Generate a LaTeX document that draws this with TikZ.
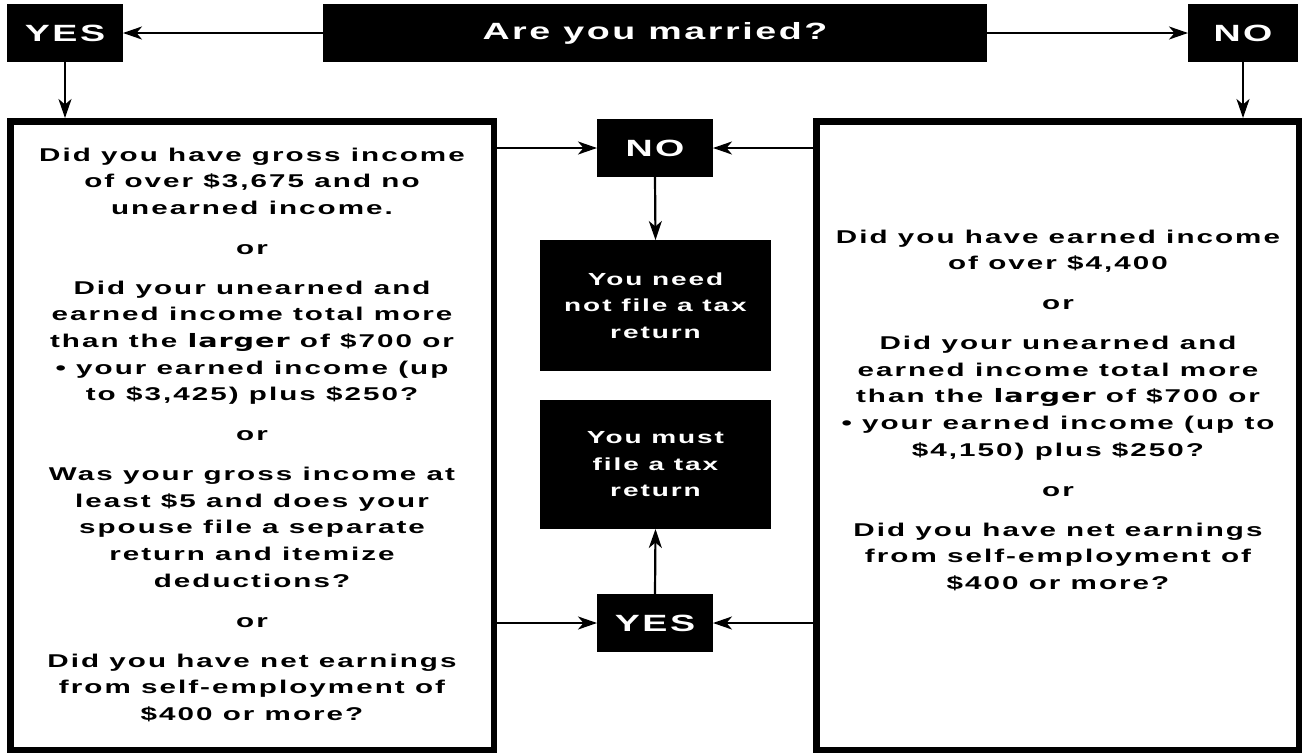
\documentclass[tikz,border=0pt]{standalone}
\usepackage{fontspec}
\newfontfamily\widefont{Liberation Sans Bold}[FakeStretch=1.6,LetterSpace=11]
\newfontfamily\heavyfont{DejaVu Sans Bold}[FakeStretch=1.55,LetterSpace=5]
\usetikzlibrary{arrows.meta}
\begin{document}
\begin{tikzpicture}[x=1pt,y=-1pt,
  blk/.style={fill=black,text=white,inner sep=0pt,outer sep=0pt,align=center,font=\fontsize{23.5}{27}\widefont},
  res/.style={fill=black,text=white,inner sep=0pt,outer sep=0pt,align=center,font=\fontsize{17.5}{26.5}\widefont},
  qbox/.style={draw=black,line width=6.5pt,outer sep=3.25pt,inner sep=0pt},
  qtext/.style={align=center,inner sep=0pt,anchor=north,font=\fontsize{18.5}{26.6}\widefont},
  arr/.style={-{Stealth[length=19pt,width=13pt,inset=5.5pt]},line width=2.2pt}]
\fill[white] (0,0) rectangle (1302,753);
\useasboundingbox (0,0) rectangle (1302,753);
% top row
\node[blk,minimum width=116pt,minimum height=58pt] (yes) at (65,33) {YES};
\node[blk,minimum width=664pt,minimum height=58pt] (bar) at (655,33) {Are you married?};
\node[blk,minimum width=110pt,minimum height=58pt] (no) at (1243,33) {NO};
% question boxes
\node[qbox,minimum width=483.5pt,minimum height=628.5pt] (lbox) at (252,435.5) {};
\node[qbox,minimum width=482.5pt,minimum height=628.5pt] (rbox) at (1057.5,435.5) {};
% centre column
\node[blk,minimum width=116pt,minimum height=58pt] (cno) at (655,148) {NO};
\node[res,minimum width=231pt,minimum height=131pt] (need) at (655.5,305.5) {You need\\not file a tax\\return};
\node[res,minimum width=231pt,minimum height=129pt] (must) at (655.5,464.5) {You must\\file a tax\\return};
\node[blk,minimum width=116pt,minimum height=58pt] (cyes) at (655,623) {YES};
% texts
\node[qtext] (ltext) at (252,147.5) {Did you have gross income\\of over \$3,675 and no\\unearned income.\\[13.4pt]or\\[13.4pt]Did your unearned and\\earned income total more\\than the {\heavyfont larger} of \$700 or\\• your earned income (up\\to \$3,425) plus \$250?\\[13.4pt]or\\[13.4pt]Was your gross income at\\least \$5 and does your\\spouse file a separate\\return and itemize\\deductions?\\[13.4pt]or\\[13.4pt]Did you have net earnings\\from self-employment of\\\$400 or more?};
\node[qtext] (rtext) at (1058,229.5) {Did you have earned income\\of over \$4,400\\[13.4pt]or\\[13.4pt]Did your unearned and\\earned income total more\\than the {\heavyfont larger} of \$700 or\\• your earned income (up to\\\$4,150) plus \$250?\\[13.4pt]or\\[13.4pt]Did you have net earnings\\from self-employment of\\\$400 or more?};
% connectors
\draw[arr] (bar.west) -- (yes.east);
\draw[arr] (bar.east) -- (no.west);
\draw[arr] (yes.south) -- (yes.south |- lbox.north);
\draw[arr] (no.south) -- (no.south |- rbox.north);
\draw[arr] (lbox.east |- cno.west) -- (cno.west);
\draw[arr] (rbox.west |- cno.east) -- (cno.east);
\draw[arr] (cno.south) -- (need.north);
\draw[arr] (lbox.east |- cyes.west) -- (cyes.west);
\draw[arr] (rbox.west |- cyes.east) -- (cyes.east);
\draw[arr] (cyes.north) -- (must.south);
\end{tikzpicture}
\end{document}
